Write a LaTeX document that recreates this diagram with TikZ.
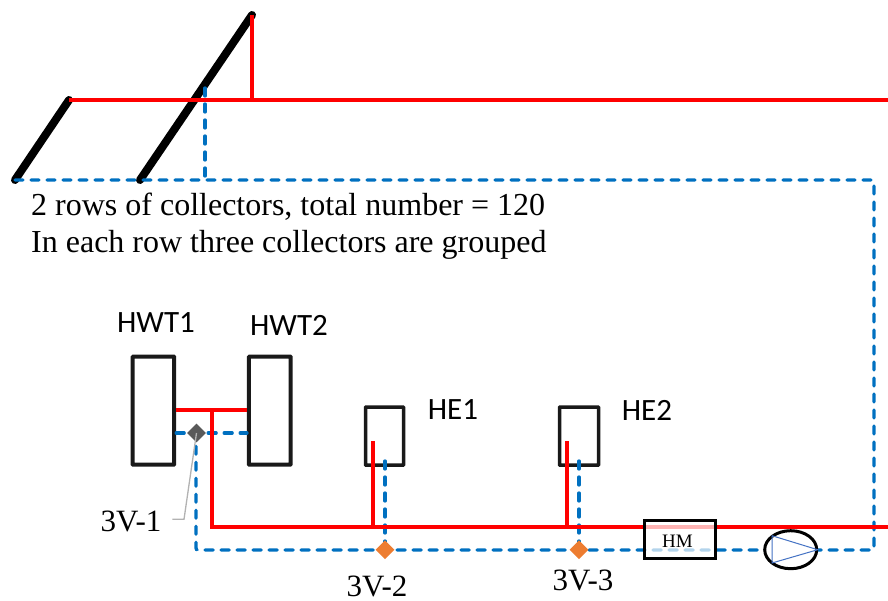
\documentclass[tikz,border=0pt]{standalone}
\usepackage{fontspec}
\setmainfont{Liberation Serif}
\newfontfamily\labelfont{Carlito}
\usetikzlibrary{shapes.geometric}
\definecolor{flowblue}{RGB}{0,112,192}
\definecolor{valveorange}{RGB}{237,125,49}
\definecolor{valvegray}{RGB}{89,89,89}
\definecolor{pumpblue}{RGB}{68,114,196}
\tikzset{
  collector/.style={line width=8pt,line cap=round},
  hotline/.style={red,line width=3.6pt},
  coldline/.style={flowblue,line width=3.3pt,dash pattern=on 8pt off 8pt,line cap=round},
  tank/.style={draw=black!90,line width=4pt,rectangle,rounded corners=0.5pt,inner sep=0pt,outer sep=2pt,anchor=center},
  smalltank/.style={tank,line width=3.5pt},
  valve/.style={diamond,inner sep=0pt,minimum width=19pt,minimum height=19pt},
  tag/.style={font=\fontsize{31}{36}\selectfont,inner sep=0pt},
  eqlabel/.style={font=\labelfont\fontsize{31}{36}\selectfont,inner sep=0pt}
}
\begin{document}
\begin{tikzpicture}[x=1pt,y=-1pt]
    \useasboundingbox (0,0) rectangle (888,600);

    % Collector rows
    \coordinate (rowAlow) at (15,180);
    \coordinate (rowAtop) at (69,100);
    \coordinate (rowBlow) at (140,180);
    \coordinate (rowBtop) at (252,15);
    \draw[collector] (rowAlow) -- (rowAtop);
    \draw[collector] (rowBlow) -- (rowBtop);

    % Storage tanks
    \node[tank,minimum width=41.5pt,minimum height=108pt] (hwtA) at (153.4,410.7) {};
    \node[tank,minimum width=41.7pt,minimum height=108pt] (hwtB) at (269.8,410.7) {};
    \node[eqlabel] at (156,323) {HWT1};
    \node[eqlabel] at (289,325) {HWT2};

    % Heat exchangers
    \node[smalltank,minimum width=38pt,minimum height=58pt] (heA) at (384.5,436.2) {};
    \node[smalltank,minimum width=39pt,minimum height=58pt] (heB) at (579,436.2) {};
    \node[eqlabel] at (453,410) {HE1};
    \node[eqlabel] at (647,410) {HE2};

    % Free ends of the pipes
    \coordinate (hotEnd) at (888,100);
    \coordinate (hotTee) at (252,100);
    \coordinate (hotEndB) at (888,527);
    \coordinate (hotCorner) at (212,527);
    \coordinate (hotJoin) at (212,410);
    \coordinate (coldCorner) at (874,180);
    \coordinate (coldCornerB) at (874,550);
    \coordinate (riserTop) at (205,88);
    \coordinate (riserLow) at (205,180);
    \coordinate (coilAhot) at (373,441);
    \coordinate (coilBhot) at (567,441);
    \coordinate (coilAcold) at (385,461);
    \coordinate (coilBcold) at (579,461);
    \coordinate (valveAlow) at (196,550);

    % Return line
    \draw[coldline,rounded corners=2pt] (rowAlow) -- (coldCorner) -- (coldCornerB) -- (valveAlow) -- (196,433);
    \draw[coldline] (riserTop) -- (riserLow);
    \draw[coldline] (hwtA.east |- 0,433) -- (hwtB.west |- 0,433);
    \draw[coldline] (coilAcold) -- (385,550);
    \draw[coldline] (coilBcold) -- (579,550);

    % Flow line
    \draw[hotline] (rowAtop) -- (hotEnd);
    \draw[hotline] (rowBtop) -- (hotTee);
    \draw[hotline] (hwtA.east |- hotJoin) -- (hwtB.west |- hotJoin);
    \draw[hotline] (hotJoin) -- (hotCorner) -- (hotEndB);
    \draw[hotline] (coilAhot) -- (coilAhot |- hotEndB);
    \draw[hotline] (coilBhot) -- (coilBhot |- hotEndB);

    % Valves
    \node[valve,fill=valvegray] (valveA) at (196.5,433) {};
    \node[valve,fill=valveorange] (valveB) at (385,549.7) {};
    \node[valve,fill=valveorange] (valveC) at (579,549.7) {};
    \coordinate (leaderKnee) at (184,519.3);
    \coordinate (leaderEnd) at (172.3,519.3);
    \draw[gray!60,line width=1.3pt] (valveA.center) -- (leaderKnee) -- (leaderEnd);
    \node[tag] at (131,521) {3V-1};
    \node[tag] at (377,586) {3V-2};
    \node[tag] at (583,580) {3V-3};

    % Heat meter
    \node[draw=black,line width=3pt,fill=white,fill opacity=0.7,draw opacity=1,
      minimum width=71.5pt,minimum height=38.5pt,inner sep=0pt,outer sep=0pt] (meter) at (680,539.5) {};
    \node[font=\fontsize{19}{22}\selectfont,inner sep=0pt] at (677.5,541) {HM};

    % Pump
    \node[ellipse,draw=black,line width=3pt,fill=white,minimum width=52pt,minimum height=38pt,inner sep=0pt,outer sep=0pt] (pump) at (790.7,549.7) {};
    \coordinate (pumpA) at (772,535.7);
    \coordinate (pumpB) at (772,563);
    \coordinate (pumpC) at (817.7,549.7);
    \draw[pumpblue,line width=1pt] (pumpA) -- (pumpC) -- (pumpB) -- cycle;

    % Note
    \node[font=\fontsize{32}{36.5}\selectfont,anchor=north west,align=left,inner sep=0pt] at (31,193)
      {2 rows of collectors, total number = 120\\In each row three collectors are grouped};
\end{tikzpicture}
\end{document}
